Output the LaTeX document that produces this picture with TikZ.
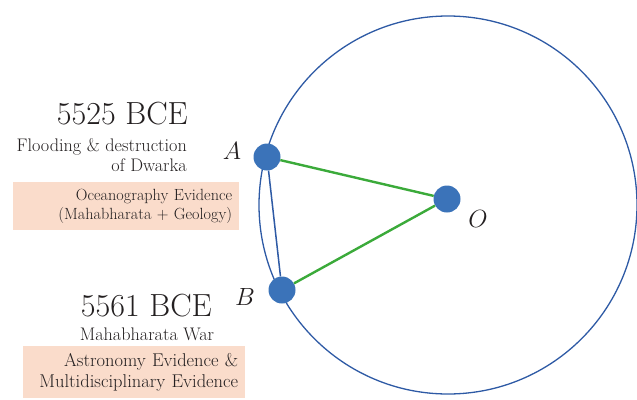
\documentclass[tikz,border=0pt]{standalone}
\usepackage{xcolor}
\usepackage{amsmath}
\usepackage{tikz}
\usetikzlibrary{positioning}
\definecolor{DotBlue}{HTML}{3B73B9}
\definecolor{RingBlue}{HTML}{2E5AA5}
\definecolor{ChordGreen}{HTML}{3BAA3A}
\definecolor{EvidencePink}{HTML}{FADCCB}
\definecolor{InkDark}{HTML}{231F20}
\tikzset{
  dotnode/.style={circle,fill=DotBlue,minimum size=27pt,inner sep=0pt},
  ptlabel/.style={font=\fontsize{23}{26}\selectfont,text=InkDark,inner sep=0pt},
  yearlabel/.style={font=\fontsize{32}{36}\selectfont,text=InkDark,inner sep=0pt},
  eventlabel/.style={font=\fontsize{18.2}{20}\selectfont,text=InkDark,
    align=right,inner sep=0pt},
  evbox/.style={fill=EvidencePink,font=\fontsize{18.5}{21}\selectfont,
    text=InkDark,align=right,inner xsep=7pt,inner ysep=2pt},
  ringline/.style={line width=1.3pt,draw=RingBlue},
  chordline/.style={line width=1.5pt,draw=RingBlue},
  spokeline/.style={line width=2.4pt,draw=ChordGreen},
}
\begin{document}
\begin{tikzpicture}[x=1pt,y=-1pt]
  \useasboundingbox (0,0) rectangle (637,399);
  % circle and its points
  \draw[ringline] (448,205) circle (189);
  \node[dotnode] (dotA) at (267,157) {};
  \node[dotnode] (dotB) at (282,290) {};
  \node[dotnode] (dotO) at (447,199) {};
  \draw[chordline] (dotA) -- (dotB);
  \draw[spokeline] (dotA) -- (dotO);
  \draw[spokeline] (dotB) -- (dotO);
  \node[ptlabel] (labA) at (232,151) {$A$};
  \node[ptlabel] (labB) at (245,297) {$B$};
  \node[ptlabel] (labO) at (478,219) {$O$};
  % left hand texts
  \node[yearlabel,anchor=east] (yearA) at (188,114) {5525 BCE};
  \node[eventlabel,anchor=north east] (eventA) at (187,138)
    {Flooding \& destruction\\of Dwarka};
  \node[evbox,font=\fontsize{16.2}{19}\selectfont,text width=212pt,
    minimum height=48pt,anchor=north west] (boxA)
    at (13,182) {Oceanography Evidence\\(Mahabharata + Geology)};
  \node[yearlabel,anchor=east] (yearB) at (212,306) {5561 BCE};
  \node[eventlabel] (eventB) at (147,334) {Mahabharata War};
  \node[evbox,text width=208pt,minimum height=52pt,anchor=north west] (boxB)
    at (23,346) {Astronomy Evidence \&\\Multidisciplinary Evidence};
\end{tikzpicture}
\end{document}
